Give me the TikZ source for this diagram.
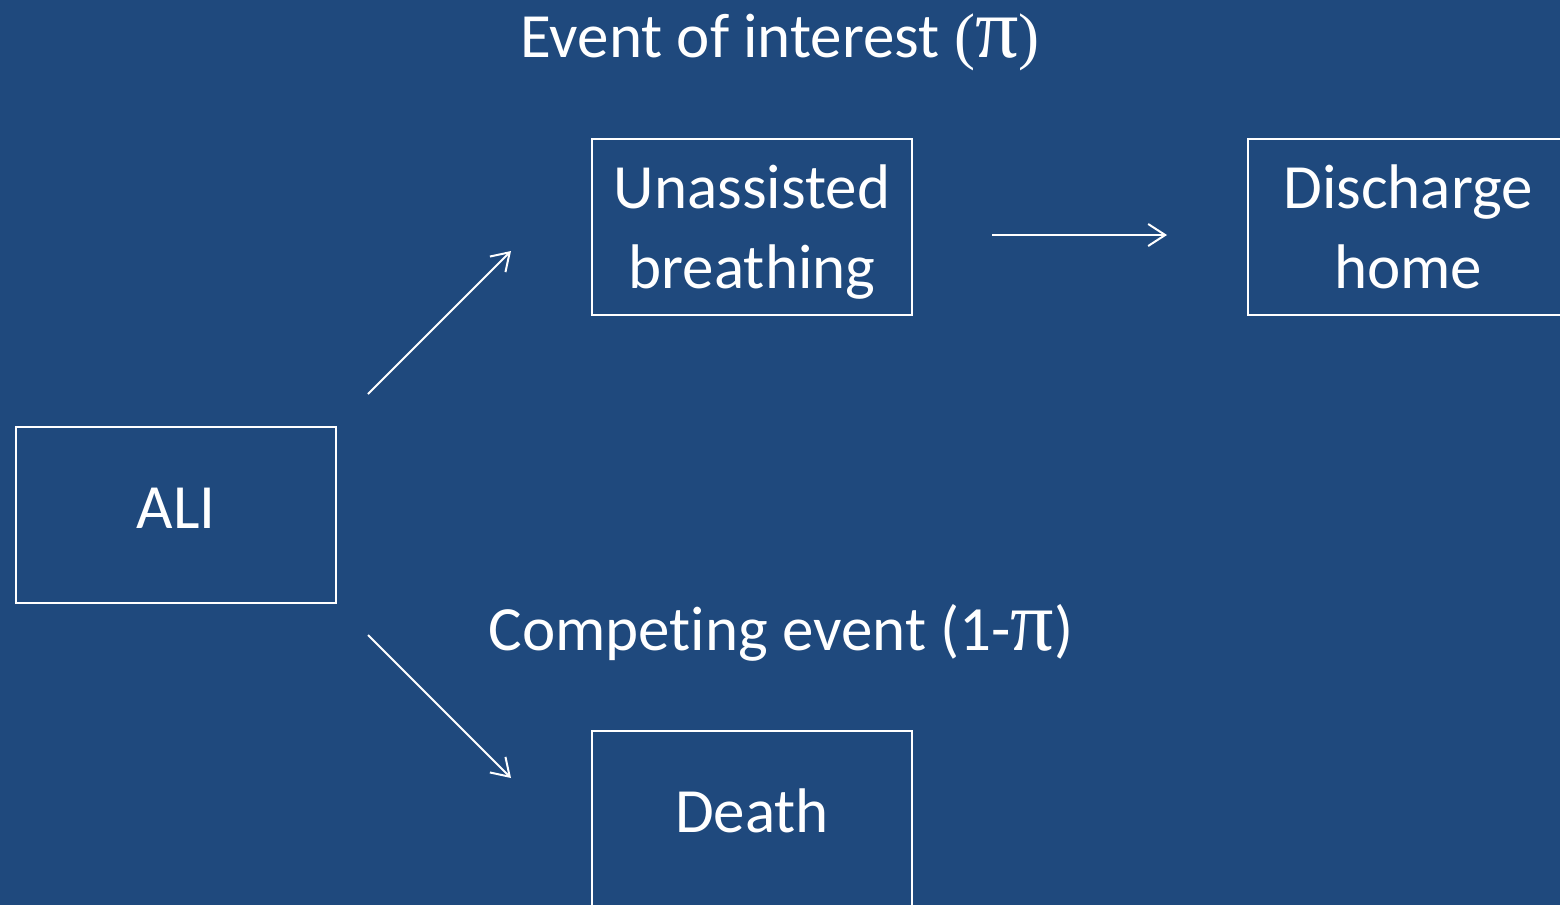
\documentclass[tikz,border=0pt]{standalone}
\usepackage{fontspec}
\setmainfont[Ligatures=NoCommon]{Carlito}
\newfontfamily\pifont{Liberation Serif}
\usetikzlibrary{arrows.meta}
\definecolor{bgblue}{RGB}{31,73,125}
\newcommand{\onestrut}{\rule[-20pt]{0pt}{67pt}}
\newcommand{\topstrut}{\rule{0pt}{58pt}}
\newcommand{\botstrut}{\rule[-16pt]{0pt}{16pt}}
\newcommand{\bigpi}{{\pifont\fontsize{86}{80}\selectfont π}}
\begin{document}
\begin{tikzpicture}[x=1pt,y=-1pt,
  every node/.style={text=white,inner sep=0pt,outer sep=0pt},
  statebox/.style={draw=white,line width=2.5pt,minimum width=320pt,minimum height=176pt,align=center,
    font=\fontsize{63}{80}\selectfont},
  label/.style={anchor=base,font=\fontsize{63}{80}\selectfont},
  arr/.style={draw=white,line width=2pt,-{Straight Barb[length=17pt,width=22pt,line width=2pt]}}]
\fill[bgblue] (0,0) rectangle (1560,905);
\useasboundingbox (0,0) rectangle (1560,905);
\node[statebox] (ali) at (176,515) {\onestrut ALI};
\node[statebox] (unas) at (752,227) {\topstrut Unassisted\\breathing\botstrut};
\node[statebox] (disc) at (1408,227) {\topstrut Discharge\\home\botstrut};
\node[statebox] (death) at (752,819) {\onestrut Death};
\node[label] (t1) at (780,57) {Event of interest {\pifont(\bigpi)}};
\node[label] (t2) at (781,650) {Competing event (1-\bigpi)};
\coordinate (a1s) at (368,394);
\coordinate (a1e) at (511,251);
\coordinate (a2s) at (992,235);
\coordinate (a2e) at (1167,235);
\coordinate (a3s) at (368,635);
\coordinate (a3e) at (511,778);
\draw[arr] (a1s) -- (a1e);
\draw[arr] (a2s) -- (a2e);
\draw[arr] (a3s) -- (a3e);
\end{tikzpicture}
\end{document}
